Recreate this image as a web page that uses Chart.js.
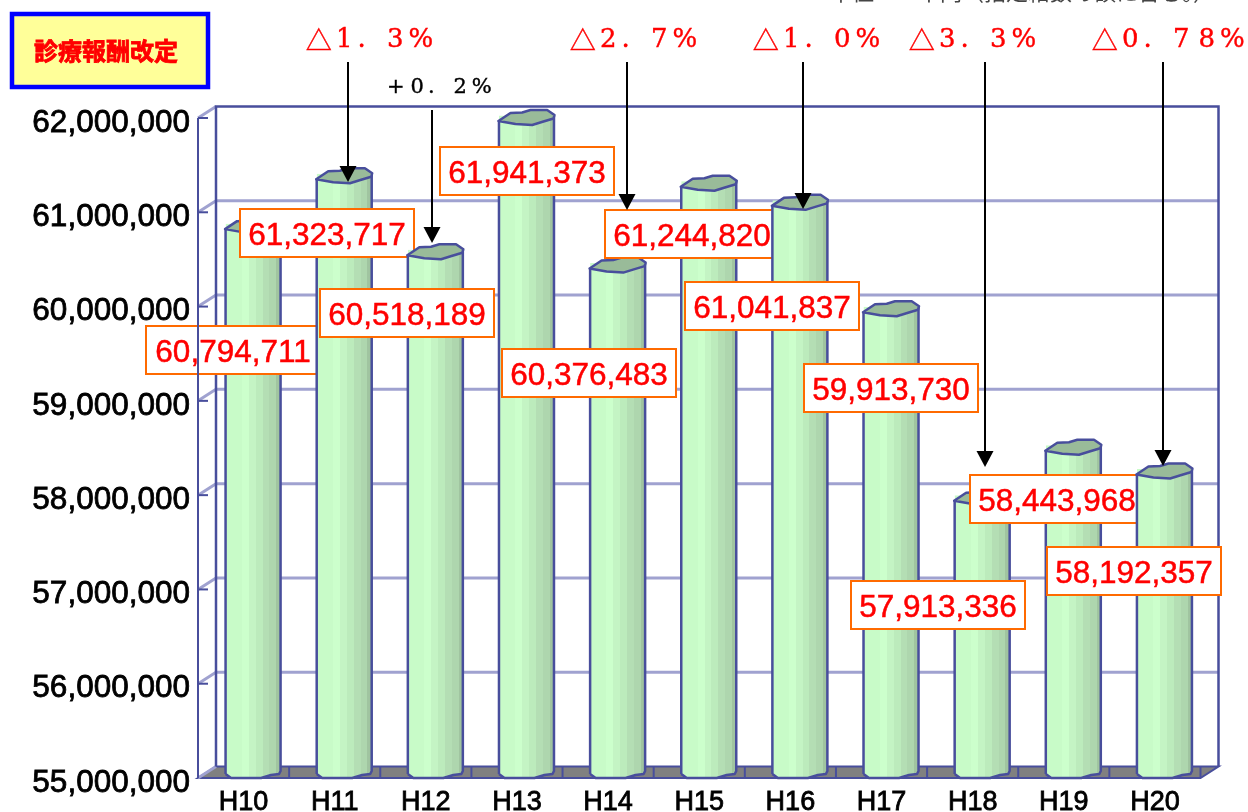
<!DOCTYPE html>
<html>
<head>
<meta charset="utf-8">
<title>診療報酬改定</title>
<style>
body { margin: 0; background: #fff; }
</style>
<script src="https://cdn.jsdelivr.net/npm/chart.js@4/dist/chart.umd.min.js"></script>
</head>
<body>
<canvas id="chart" width="1248" height="812"></canvas>
<script>
const years = ['H10', 'H11', 'H12', 'H13', 'H14', 'H15', 'H16', 'H17', 'H18', 'H19', 'H20'];
const amounts = [60794711, 61323717, 60518189, 61941373, 60376483, 61244820, 61041837, 59913730, 57913336, 58443968, 58192357];
const axisMin = 55000000;
const axisMax = 62000000;
const axisStep = 1000000;

// label boxes are placed by hand, same as in the original slide: left, top
const labelBoxes = [[146, 326], [240, 209], [320, 289], [440, 147], [502, 349], [605, 210], [685, 282], [804, 364], [851, 581], [970, 475], [1047, 547]];

// fee revision notes: text, left edge, baseline middle, arrow x, arrow start, arrow tip
const revisions = [
    { text: '△1.3%', color: '#ff0000', left: 306, mid: 40, arrowX: 348, from: 62, to: 182 },
    { text: '+0.2%', color: '#000000', left: 385, mid: 88, arrowX: 432, from: 110, to: 243, small: true },
    { text: '△2.7%', color: '#ff0000', left: 570, mid: 40, arrowX: 627, from: 62, to: 210 },
    { text: '△1.0%', color: '#ff0000', left: 753, mid: 40, arrowX: 803, from: 62, to: 209 },
    { text: '△3.3%', color: '#ff0000', left: 909, mid: 40, arrowX: 985, from: 62, to: 467 },
    { text: '△0.78%', color: '#ff0000', left: 1092, mid: 40, arrowX: 1163, from: 62, to: 466 }
];

const lineBlue = '#484e9c';
const gridBlue = '#a0a2d0';
const depthX = 18;
const depthY = 11.5;
const barShift = 9.5;
const barWidth = 55;

const capShape = [[-28, -2.5], [-16, -10.5], [-4.3, -11], [4, -13.5], [20.7, -13.5], [28, -8.5], [27, -5], [17, -2], [5.7, 1.5], [-11, 0.5]];
const footShape = [[27.5, -7], [26, -4], [18, -3], [8, 0], [-22, 0], [-27.5, -4]];

function bandFill(chart, index) {
    const x = chart.scales.x;
    const cx = x ? x.getPixelForValue(index) + barShift : NaN;
    if (!Number.isFinite(cx)) return '#ccffcc';
    const g = chart.ctx.createLinearGradient(cx - barWidth / 2, 0, cx + barWidth / 2, 0);
    const bands = ['#c8fbc8', '#ccffcc', '#c4f4c4', '#bcebbc', '#b4deb4', '#aed6ae', '#a0c4a0', '#9abc9a'];
    bands.forEach((c, i) => {
        g.addColorStop(i / bands.length, c);
        g.addColorStop((i + 1) / bands.length, c);
    });
    return g;
}

function tracePoints(ctx, cx, cy, pts, start) {
    pts.forEach((p, i) => {
        if (i === 0 && start) ctx.moveTo(cx + p[0], cy + p[1]);
        else ctx.lineTo(cx + p[0], cy + p[1]);
    });
}

function drawWalls(chart) {
    const ctx = chart.ctx;
    const y = chart.scales.y;
    const area = chart.chartArea;
    ctx.save();

    // floor
    ctx.beginPath();
    ctx.moveTo(area.left, area.bottom);
    ctx.lineTo(area.left + depthX, area.bottom - depthY);
    ctx.lineTo(area.right + depthX, area.bottom - depthY);
    ctx.lineTo(area.right, area.bottom);
    ctx.closePath();
    ctx.fillStyle = '#808080';
    ctx.fill();
    ctx.strokeStyle = lineBlue;
    ctx.lineWidth = 2;
    ctx.stroke();
    for (let i = 1; i <= years.length; i++) {
        const fx = area.left + (area.right - area.left) * i / years.length;
        ctx.beginPath();
        ctx.moveTo(fx, area.bottom);
        ctx.lineTo(fx, area.bottom - depthY);
        ctx.stroke();
    }

    // grid on back wall plus the slanted bit on the side wall
    y.ticks.forEach(t => {
        const py = y.getPixelForValue(t.value);
        ctx.strokeStyle = gridBlue;
        ctx.lineWidth = 3;
        if (t.value > axisMin && t.value < axisMax) {
            ctx.beginPath();
            ctx.moveTo(area.left + depthX, py - depthY);
            ctx.lineTo(area.right + depthX, py - depthY);
            ctx.stroke();
        }
        ctx.beginPath();
        ctx.moveTo(area.left, py);
        ctx.lineTo(area.left + depthX, py - depthY);
        ctx.stroke();
        if (t.value > axisMin) {
            ctx.strokeStyle = lineBlue;
            ctx.lineWidth = 2;
            ctx.beginPath();
            ctx.moveTo(area.left, py);
            ctx.lineTo(area.left + 10, py);
            ctx.stroke();
        }
    });

    // back wall frame
    ctx.strokeStyle = lineBlue;
    ctx.lineWidth = 2.5;
    ctx.beginPath();
    ctx.moveTo(area.left + depthX, area.bottom - depthY);
    ctx.lineTo(area.left + depthX, area.top - depthY);
    ctx.lineTo(area.right + depthX, area.top - depthY);
    ctx.lineTo(area.right + depthX, area.bottom - depthY);
    ctx.stroke();
    ctx.restore();
}

function drawCylinder(ctx, el) {
    const cx = el.x + barShift;
    const half = barWidth / 2;
    const base = el.base;

    ctx.save();
    ctx.beginPath();
    ctx.moveTo(cx - half, el.y - 8);
    ctx.lineTo(cx + half, el.y - 8);
    tracePoints(ctx, cx, base, footShape, false);
    ctx.closePath();
    ctx.clip();
    ctx.translate(barShift, 0);
    el.draw(ctx);
    ctx.fillStyle = el.options.backgroundColor;
    ctx.fillRect(el.x - half, el.y - 8, barWidth, 9);
    ctx.restore();

    ctx.save();
    ctx.strokeStyle = lineBlue;
    ctx.lineWidth = 2.5;
    ctx.lineJoin = 'round';
    ctx.beginPath();
    ctx.moveTo(cx - half, el.y - 3);
    ctx.lineTo(cx - half, base - 4);
    ctx.moveTo(cx + half, el.y - 8);
    tracePoints(ctx, cx, base, footShape, false);
    ctx.stroke();

    ctx.beginPath();
    tracePoints(ctx, cx, el.y, capShape, true);
    ctx.closePath();
    ctx.fillStyle = '#99bb99';
    ctx.fill();
    ctx.stroke();
    ctx.restore();
}

function drawValueLabel(ctx, value, box) {
    const w = 174;
    const h = 48;
    const text = value.toLocaleString('en-US');
    ctx.save();
    ctx.fillStyle = '#ffffff';
    ctx.fillRect(box[0], box[1], w, h);
    ctx.strokeStyle = '#ff6a00';
    ctx.lineWidth = 2;
    ctx.strokeRect(box[0], box[1], w, h);
    ctx.fillStyle = '#ff0000';
    ctx.strokeStyle = '#ff0000';
    ctx.lineWidth = 0.5;
    ctx.font = '31.5px "Liberation Sans"';
    ctx.textAlign = 'center';
    ctx.textBaseline = 'middle';
    ctx.fillText(text, box[0] + w / 2, box[1] + h / 2 + 3);
    ctx.strokeText(text, box[0] + w / 2, box[1] + h / 2 + 3);
    ctx.restore();
}

function drawRevision(ctx, r) {
    const pitch = r.small ? 21.5 : 25.5;
    const size = r.small ? 21 : 26;
    const dotShift = r.small ? 7.5 : 8;
    ctx.save();
    ctx.fillStyle = r.color;
    ctx.strokeStyle = r.color;
    ctx.lineWidth = 0.4;
    ctx.textAlign = 'center';
    ctx.textBaseline = 'middle';
    Array.from(r.text).forEach((ch, i) => {
        ctx.font = ch === '△' ? '26px "Noto Sans CJK JP"' : size + 'px "DejaVu Serif"';
        const cx = r.left + pitch / 2 + i * pitch - (ch === '.' ? dotShift : 0);
        ctx.fillText(ch, cx, r.mid);
        ctx.strokeText(ch, cx, r.mid);
    });

    ctx.strokeStyle = '#000000';
    ctx.lineWidth = 2;
    ctx.beginPath();
    ctx.moveTo(r.arrowX, r.from);
    ctx.lineTo(r.arrowX, r.to - 10);
    ctx.stroke();
    ctx.fillStyle = '#000000';
    ctx.beginPath();
    ctx.moveTo(r.arrowX, r.to);
    ctx.lineTo(r.arrowX - 8.5, r.to - 16);
    ctx.lineTo(r.arrowX + 8.5, r.to - 16);
    ctx.closePath();
    ctx.fill();
    ctx.restore();
}

function drawTitleBox(ctx) {
    ctx.save();
    ctx.fillStyle = '#ffff99';
    ctx.fillRect(12, 14, 196, 73);
    ctx.strokeStyle = '#0000ff';
    ctx.lineWidth = 4.5;
    ctx.strokeRect(12, 14, 196, 73);
    ctx.fillStyle = '#ff0000';
    ctx.strokeStyle = '#ff0000';
    ctx.lineWidth = 0.8;
    ctx.font = 'bold 24px "Noto Sans CJK JP"';
    ctx.textAlign = 'center';
    ctx.textBaseline = 'middle';
    ctx.fillText('診療報酬改定', 106, 51);
    ctx.strokeText('診療報酬改定', 106, 51);
    ctx.restore();
}

const slidePlugin = {
    id: 'slide',
    beforeDatasetsDraw(chart) {
        const ctx = chart.ctx;
        const area = chart.chartArea;
        drawWalls(chart);
        chart.getDatasetMeta(0).data.forEach((el, i) => {
            drawCylinder(ctx, el);
            drawValueLabel(ctx, amounts[i], labelBoxes[i]);
        });

        // the front edge of the side wall runs over the H10 label
        ctx.save();
        ctx.strokeStyle = lineBlue;
        ctx.lineWidth = 2;
        ctx.beginPath();
        ctx.moveTo(area.left, area.top);
        ctx.lineTo(area.left, area.bottom);
        ctx.stroke();
        ctx.restore();

        revisions.forEach(r => drawRevision(ctx, r));
        drawTitleBox(ctx);

        ctx.save();
        ctx.fillStyle = '#444444';
        ctx.font = '22px "Noto Sans CJK JP"';
        ctx.textBaseline = 'alphabetic';
        ctx.fillText('単位：　千円（指定給数の額に含む。）', 830, 0);
        ctx.restore();
        return false;
    }
};

new Chart(document.getElementById('chart').getContext('2d'), {
    type: 'bar',
    data: {
        labels: years,
        datasets: [{
            data: amounts,
            base: axisMin,
            barThickness: barWidth,
            borderWidth: 0,
            backgroundColor: c => bandFill(c.chart, c.dataIndex)
        }]
    },
    options: {
        responsive: false,
        animation: false,
        events: [],
        layout: { padding: { left: 0, top: 118, right: 47.5, bottom: 0 } },
        plugins: {
            legend: { display: false },
            title: { display: false },
            tooltip: { enabled: false }
        },
        scales: {
            x: {
                grid: { display: false },
                border: { display: false },
                afterFit: s => { s.height = 34; },
                ticks: {
                    padding: 0,
                    maxRotation: 0,
                    autoSkip: false,
                    color: '#000000',
                    textStrokeColor: '#000000',
                    textStrokeWidth: 0.8,
                    font: { family: 'Liberation Sans', size: 27 }
                }
            },
            y: {
                min: axisMin,
                max: axisMax,
                grid: { display: false },
                border: { display: false },
                afterFit: s => { s.width = 198; },
                ticks: {
                    stepSize: axisStep,
                    padding: 0,
                    labelOffset: 5,
                    color: '#000000',
                    textStrokeColor: '#000000',
                    textStrokeWidth: 0.8,
                    font: { family: 'Liberation Sans', size: 31.5 },
                    callback: v => Number(v).toLocaleString('en-US')
                }
            }
        }
    },
    plugins: [slidePlugin]
});
</script>
</body>
</html>
